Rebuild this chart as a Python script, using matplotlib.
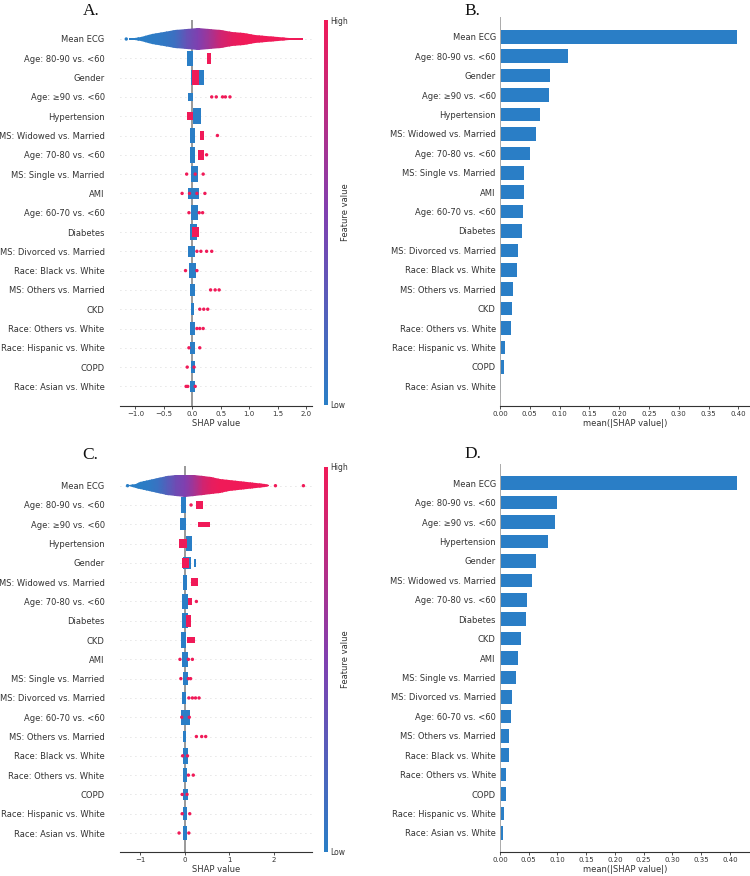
import numpy as np
import matplotlib
matplotlib.use('Agg')
import matplotlib.pyplot as plt
from matplotlib.colors import LinearSegmentedColormap
from matplotlib.cm import ScalarMappable

# feature order (top to bottom) for panels A/B and C/D
features_ab = ['Mean ECG', 'Age: 80-90 vs. <60', 'Gender', 'Age: \u226590 vs. <60', 'Hypertension',
               'MS: Widowed vs. Married', 'Age: 70-80 vs. <60', 'MS: Single vs. Married', 'AMI',
               'Age: 60-70 vs. <60', 'Diabetes', 'MS: Divorced vs. Married', 'Race: Black vs. White',
               'MS: Others vs. Married', 'CKD', 'Race: Others vs. White', 'Race: Hispanic vs. White',
               'COPD', 'Race: Asian vs. White']
features_cd = ['Mean ECG', 'Age: 80-90 vs. <60', 'Age: \u226590 vs. <60', 'Hypertension', 'Gender',
               'MS: Widowed vs. Married', 'Age: 70-80 vs. <60', 'Diabetes', 'CKD', 'AMI',
               'MS: Single vs. Married', 'MS: Divorced vs. Married', 'Age: 60-70 vs. <60',
               'MS: Others vs. Married', 'Race: Black vs. White', 'Race: Others vs. White', 'COPD',
               'Race: Hispanic vs. White', 'Race: Asian vs. White']

# mean(|SHAP|) bars
mean_abs_b = [0.398, 0.114, 0.084, 0.083, 0.067, 0.060, 0.050, 0.041, 0.040, 0.039, 0.037,
              0.030, 0.028, 0.021, 0.020, 0.018, 0.008, 0.006, 0.001]
mean_abs_d = [0.413, 0.099, 0.096, 0.084, 0.062, 0.056, 0.047, 0.046, 0.037, 0.031, 0.027,
              0.021, 0.020, 0.016, 0.015, 0.010, 0.010, 0.007, 0.005]

# Mean ECG beeswarm envelope: shap value, half-thickness of swarm, feature value (0 low .. 1 high)
ecg_x_a = [-1.12, -1.0, -0.9, -0.7, -0.5, -0.3, -0.1, 0.1, 0.3, 0.5, 0.7, 0.9, 1.1, 1.3, 1.5, 1.7, 1.95]
ecg_h_a = [0.03, 0.06, 0.12, 0.26, 0.38, 0.48, 0.54, 0.56, 0.54, 0.47, 0.38, 0.3, 0.23, 0.16, 0.11, 0.07, 0.03]
ecg_v_a = [0.0, 0.0, 0.0, 0.02, 0.05, 0.12, 0.35, 0.5, 0.65, 0.85, 0.95, 1.0, 1.0, 1.0, 1.0, 1.0, 1.0]

ecg_x_c = [-1.26, -1.1, -1.0, -0.8, -0.6, -0.4, -0.2, 0.0, 0.2, 0.4, 0.6, 0.8, 1.0, 1.2, 1.4, 1.6, 1.8, 1.9]
ecg_h_c = [0.03, 0.1, 0.18, 0.3, 0.4, 0.48, 0.54, 0.56, 0.55, 0.5, 0.43, 0.36, 0.3, 0.24, 0.19, 0.14, 0.09, 0.03]
ecg_v_c = [0.0, 0.0, 0.0, 0.03, 0.1, 0.25, 0.4, 0.5, 0.65, 0.85, 0.95, 1.0, 1.0, 1.0, 1.0, 1.0, 1.0, 1.0]

# dense clusters of points: (feature, x from, x to, half-thickness, feature value)
blobs_a = [
    ('Age: 80-90 vs. <60', -0.09, 0.02, 0.4, 0), ('Age: 80-90 vs. <60', 0.25, 0.32, 0.3, 1),
    ('Gender', -0.03, 0.21, 0.4, 0), ('Gender', -0.01, 0.12, 0.38, 1),
    ('Age: \u226590 vs. <60', -0.07, 0.02, 0.2, 0),
    ('Hypertension', 0.02, 0.16, 0.4, 0), ('Hypertension', -0.09, 0.02, 0.2, 1),
    ('MS: Widowed vs. Married', -0.04, 0.05, 0.4, 0), ('MS: Widowed vs. Married', 0.13, 0.2, 0.25, 1),
    ('Age: 70-80 vs. <60', -0.04, 0.04, 0.4, 0), ('Age: 70-80 vs. <60', 0.1, 0.2, 0.25, 1),
    ('MS: Single vs. Married', -0.03, 0.1, 0.4, 0),
    ('AMI', -0.07, 0.11, 0.3, 0),
    ('Age: 60-70 vs. <60', -0.03, 0.1, 0.4, 0),
    ('Diabetes', -0.04, 0.09, 0.4, 0), ('Diabetes', 0.0, 0.12, 0.28, 1),
    ('MS: Divorced vs. Married', -0.07, 0.05, 0.3, 0),
    ('Race: Black vs. White', -0.06, 0.06, 0.4, 0),
    ('MS: Others vs. Married', -0.04, 0.04, 0.3, 0),
    ('CKD', -0.03, 0.03, 0.3, 0),
    ('Race: Others vs. White', -0.05, 0.05, 0.35, 0),
    ('Race: Hispanic vs. White', -0.04, 0.04, 0.3, 0),
    ('COPD', -0.03, 0.04, 0.3, 0),
    ('Race: Asian vs. White', -0.04, 0.04, 0.3, 0),
]
blobs_c = [
    ('Age: 80-90 vs. <60', -0.08, 0.02, 0.4, 0), ('Age: 80-90 vs. <60', 0.25, 0.4, 0.22, 1),
    ('Age: \u226590 vs. <60', -0.11, 0.02, 0.3, 0), ('Age: \u226590 vs. <60', 0.3, 0.56, 0.12, 1),
    ('Hypertension', 0.02, 0.17, 0.4, 0), ('Hypertension', -0.14, 0.04, 0.22, 1),
    ('Gender', -0.05, 0.13, 0.3, 0), ('Gender', 0.2, 0.25, 0.22, 0), ('Gender', -0.07, 0.1, 0.25, 1),
    ('MS: Widowed vs. Married', -0.05, 0.05, 0.38, 0), ('MS: Widowed vs. Married', 0.14, 0.3, 0.22, 1),
    ('Age: 70-80 vs. <60', -0.07, 0.06, 0.4, 0), ('Age: 70-80 vs. <60', 0.06, 0.15, 0.2, 1),
    ('Diabetes', -0.07, 0.08, 0.4, 0), ('Diabetes', 0.02, 0.13, 0.3, 1),
    ('CKD', -0.09, 0.02, 0.4, 0), ('CKD', 0.04, 0.23, 0.15, 1),
    ('AMI', -0.07, 0.08, 0.4, 0),
    ('MS: Single vs. Married', -0.05, 0.08, 0.35, 0),
    ('MS: Divorced vs. Married', -0.06, 0.02, 0.3, 0),
    ('Age: 60-70 vs. <60', -0.08, 0.11, 0.38, 0),
    ('MS: Others vs. Married', -0.05, 0.02, 0.3, 0),
    ('Race: Black vs. White', -0.04, 0.08, 0.4, 0),
    ('Race: Others vs. White', -0.04, 0.04, 0.35, 0),
    ('COPD', -0.05, 0.08, 0.3, 0),
    ('Race: Hispanic vs. White', -0.04, 0.04, 0.35, 0),
    ('Race: Asian vs. White', -0.04, 0.04, 0.35, 0),
]

# isolated points: (feature, shap value, feature value)
dots_a = [
    ('Mean ECG', -1.16, 0),
    ('Age: \u226590 vs. <60', 0.34, 1), ('Age: \u226590 vs. <60', 0.42, 1), ('Age: \u226590 vs. <60', 0.53, 1),
    ('Age: \u226590 vs. <60', 0.58, 1), ('Age: \u226590 vs. <60', 0.66, 1),
    ('MS: Widowed vs. Married', 0.44, 1), ('Age: 70-80 vs. <60', 0.25, 1),
    ('MS: Single vs. Married', -0.1, 1), ('MS: Single vs. Married', 0.05, 1), ('MS: Single vs. Married', 0.19, 1),
    ('AMI', -0.18, 1), ('AMI', -0.05, 1), ('AMI', 0.08, 1), ('AMI', 0.22, 1),
    ('Age: 60-70 vs. <60', -0.06, 1), ('Age: 60-70 vs. <60', 0.12, 1), ('Age: 60-70 vs. <60', 0.18, 1),
    ('MS: Divorced vs. Married', 0.08, 1), ('MS: Divorced vs. Married', 0.15, 1),
    ('MS: Divorced vs. Married', 0.25, 1), ('MS: Divorced vs. Married', 0.34, 1),
    ('Race: Black vs. White', -0.12, 1), ('Race: Black vs. White', 0.08, 1),
    ('MS: Others vs. Married', 0.32, 1), ('MS: Others vs. Married', 0.4, 1), ('MS: Others vs. Married', 0.47, 1),
    ('CKD', 0.13, 1), ('CKD', 0.2, 1), ('CKD', 0.27, 1),
    ('Race: Others vs. White', 0.08, 1), ('Race: Others vs. White', 0.13, 1), ('Race: Others vs. White', 0.19, 1),
    ('Race: Hispanic vs. White', -0.06, 1), ('Race: Hispanic vs. White', 0.13, 1),
    ('COPD', -0.09, 1), ('COPD', 0.03, 1),
    ('Race: Asian vs. White', -0.11, 1), ('Race: Asian vs. White', -0.08, 1), ('Race: Asian vs. White', 0.05, 1),
]
dots_c = [
    ('Mean ECG', -1.29, 0), ('Mean ECG', 2.04, 1), ('Mean ECG', 2.67, 1),
    ('Age: 80-90 vs. <60', 0.14, 1), ('Age: 70-80 vs. <60', 0.26, 1),
    ('AMI', -0.11, 1), ('AMI', 0.08, 1), ('AMI', 0.17, 1),
    ('MS: Single vs. Married', -0.09, 1), ('MS: Single vs. Married', 0.08, 1), ('MS: Single vs. Married', 0.13, 1),
    ('MS: Divorced vs. Married', 0.09, 1), ('MS: Divorced vs. Married', 0.17, 1),
    ('MS: Divorced vs. Married', 0.24, 1), ('MS: Divorced vs. Married', 0.32, 1),
    ('Age: 60-70 vs. <60', -0.07, 1), ('Age: 60-70 vs. <60', 0.1, 1),
    ('MS: Others vs. Married', 0.26, 1), ('MS: Others vs. Married', 0.38, 1), ('MS: Others vs. Married', 0.47, 1),
    ('Race: Black vs. White', -0.05, 1), ('Race: Black vs. White', 0.06, 1),
    ('Race: Others vs. White', 0.08, 1), ('Race: Others vs. White', 0.19, 1),
    ('COPD', -0.06, 1), ('COPD', 0.05, 1),
    ('Race: Hispanic vs. White', -0.06, 1), ('Race: Hispanic vs. White', 0.11, 1),
    ('Race: Asian vs. White', -0.13, 1), ('Race: Asian vs. White', 0.09, 1),
]

BLUE = '#2a7ec6'
TXT = '#333333'
cmap = LinearSegmentedColormap.from_list('shap_rb', ['#2a7ec6', '#8040b0', '#f01a58'])


def beeswarm(ax, cax, feats, ecg_x, ecg_h, ecg_v, blobs, dots, xlim, xticks):
    n = len(feats)
    ypos = {f: n - 1 - i for i, f in enumerate(feats)}
    ax.axvline(0, color='#999999', lw=1.4, zorder=0)
    for f in feats:
        ax.axhline(ypos[f], color='#cccccc', lw=0.6, dashes=(1, 5), zorder=0)

    # Mean ECG swarm envelope, coloured by feature value
    y0 = ypos['Mean ECG']
    ex = np.array(ecg_x)
    eh = np.array(ecg_h)
    env = ax.fill_between(ex, y0 - eh, y0 + eh, color='none', lw=0)
    X = np.vstack([ex, ex])
    Y = np.vstack([np.full_like(ex, y0 - 0.7), np.full_like(ex, y0 + 0.7)])
    C = np.vstack([ecg_v, ecg_v])
    mesh = ax.pcolormesh(X, Y, C, cmap=cmap, vmin=0, vmax=1, shading='gouraud', zorder=2)
    mesh.set_clip_path(env.get_paths()[0], transform=ax.transData)

    for f, x0, x1, h, v in blobs:
        ax.barh(ypos[f], x1 - x0, left=x0, height=2 * h, color=cmap(float(v)), lw=0, zorder=3)
    ax.scatter([d[1] for d in dots], [ypos[d[0]] for d in dots], s=6,
               c=[cmap(float(d[2])) for d in dots], lw=0, zorder=4)

    ax.set_xlim(*xlim)
    ax.set_ylim(-1, n)
    ax.set_xticks(xticks)
    ax.set_yticks([ypos[f] for f in feats])
    ax.set_yticklabels(feats, fontsize=6, color=TXT)
    ax.tick_params(axis='y', length=0, pad=11)
    ax.tick_params(axis='x', labelsize=5, length=2, width=0.6, color=TXT, labelcolor=TXT, pad=1.5)
    for s in ['left', 'top', 'right']:
        ax.spines[s].set_visible(False)
    ax.spines['bottom'].set_color(TXT)
    ax.spines['bottom'].set_linewidth(0.8)
    ax.set_xlabel('SHAP value', fontsize=6, color=TXT, labelpad=1.5)

    cb = plt.colorbar(ScalarMappable(cmap=cmap, norm=plt.Normalize(0, 1)), cax=cax, ticks=[0, 1])
    cb.set_ticklabels(['Low', 'High'])
    cb.ax.tick_params(labelsize=5.5, length=0, pad=1.5, labelcolor=TXT)
    cb.set_label('Feature value', fontsize=6, color=TXT, labelpad=-5)
    cb.outline.set_visible(False)


def barplot(ax, feats, vals, xmax):
    n = len(feats)
    ypos = [n - 1 - i for i in range(n)]
    ax.barh(ypos, vals, height=0.7, color=BLUE, lw=0)
    ax.set_xlim(0, xmax)
    ax.set_ylim(-1, n)
    ax.set_yticks(ypos)
    ax.set_yticklabels(feats, fontsize=6, color=TXT)
    ax.tick_params(axis='y', length=0, pad=3)
    ax.set_xticks(np.arange(0, 0.41, 0.05))
    ax.set_xticklabels(['%.2f' % t for t in np.arange(0, 0.41, 0.05)])
    ax.tick_params(axis='x', labelsize=5, length=2, width=0.6, color=TXT, labelcolor=TXT, pad=1.5)
    ax.spines['top'].set_visible(False)
    ax.spines['right'].set_visible(False)
    ax.spines['left'].set_color('#aaaaaa')
    ax.spines['left'].set_linewidth(0.7)
    ax.spines['bottom'].set_color(TXT)
    ax.spines['bottom'].set_linewidth(0.8)
    ax.set_xlabel('mean(|SHAP value|)', fontsize=6, color=TXT, labelpad=1.5)


fig = plt.figure(figsize=(7.5, 8.76), dpi=100)
W, H = 750.0, 876.0


def box(x0, y0, x1, y1):
    return [x0 / W, 1 - y1 / H, (x1 - x0) / W, (y1 - y0) / H]


axA = fig.add_axes(box(120, 19.7, 312, 405.7))
caxA = fig.add_axes(box(324, 20, 328, 405))
axB = fig.add_axes(box(500, 17.4, 750, 405.7))
axC = fig.add_axes(box(120, 466.4, 312.3, 852.3))
caxC = fig.add_axes(box(324, 466.7, 328, 851.7))
axD = fig.add_axes(box(500, 463.8, 750, 852.3))

beeswarm(axA, caxA, features_ab, ecg_x_a, ecg_h_a, ecg_v_a, blobs_a, dots_a, (-1.27, 2.10),
         [-1.0, -0.5, 0.0, 0.5, 1.0, 1.5, 2.0])
beeswarm(axC, caxC, features_cd, ecg_x_c, ecg_h_c, ecg_v_c, blobs_c, dots_c, (-1.46, 2.87),
         [-1, 0, 1, 2])
barplot(axB, features_ab, mean_abs_b, 0.4196)
barplot(axD, features_cd, mean_abs_d, 0.4348)

for lab, px, py in [('A.', 91, 11), ('B.', 472, 11), ('C.', 90, 455), ('D.', 473, 454)]:
    fig.text(px / W, 1 - py / H, lab, fontsize=12.5, family='Liberation Serif',
             ha='center', va='center', color='#111111')

fig.savefig('out.png', dpi=100)
